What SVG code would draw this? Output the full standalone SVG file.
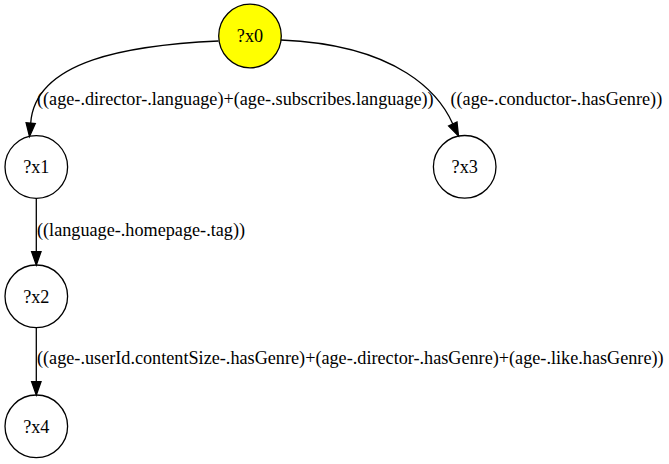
<svg xmlns="http://www.w3.org/2000/svg" width="669" height="464" viewBox="0 0 669 464">
<defs>
<style>
.node ellipse{stroke:#000;stroke-width:1.3}
.node text{font-family:"Liberation Serif","Times New Roman",serif;font-size:18.2px;text-anchor:middle;fill:#000}
.edge path{fill:none;stroke:#000;stroke-width:1.3}
.edge polygon{fill:#000;stroke:#000;stroke-width:1.3}
.lbl{font-family:"Liberation Serif","Times New Roman",serif;font-size:18.2px;fill:#000}
</style>
</defs>
<rect x="0" y="0" width="669" height="464" fill="#fff"/>
<g id="edges">
<g class="edge" id="e_x0_x1">
<path d="M218.5,41 C130,45 35,60 30.7,123.2"/>
<polygon points="35.3,123.6 29.5,136.5 26.1,122.8"/>
<text class="lbl" x="37" y="105">((age-.director-.language)+(age-.subscribes.language))</text>
</g>
<g class="edge" id="e_x0_x3">
<path d="M281,40 C400,45 440,95 452.8,124"/>
<polygon points="457,122 458.5,136 448.6,126"/>
<text class="lbl" x="450.5" y="105">((age-.conductor-.hasGenre))</text>
</g>
<g class="edge" id="e_x1_x2">
<path d="M36.3,198.3 L36.3,251.7"/>
<polygon points="41,251.7 36.3,265 31.6,251.7"/>
<text class="lbl" x="37" y="236">((language-.homepage-.tag))</text>
</g>
<g class="edge" id="e_x2_x4">
<path d="M36.3,327.7 L36.3,381.7"/>
<polygon points="41,381.7 36.3,395 31.6,381.7"/>
<text class="lbl" x="37" y="364">((age-.userId.contentSize-.hasGenre)+(age-.director-.hasGenre)+(age-.like.hasGenre))</text>
</g>
</g>
<g class="node" id="x0">
<ellipse cx="250" cy="36" rx="31.3" ry="31.8" fill="#ffff00"/>
<text x="250" y="42.3">?x0</text>
</g>
<g class="node" id="x1">
<ellipse cx="36.3" cy="167" rx="31.3" ry="31.3" fill="none"/>
<text x="36.3" y="173.3">?x1</text>
</g>
<g class="node" id="x3">
<ellipse cx="464.7" cy="166.8" rx="31.3" ry="31.3" fill="none"/>
<text x="464.7" y="173.1">?x3</text>
</g>
<g class="node" id="x2">
<ellipse cx="36.3" cy="296.3" rx="31.3" ry="31.3" fill="none"/>
<text x="36.3" y="302.6">?x2</text>
</g>
<g class="node" id="x4">
<ellipse cx="36.3" cy="426.3" rx="31.3" ry="31.3" fill="none"/>
<text x="36.3" y="432.6">?x4</text>
</g>
</svg>
